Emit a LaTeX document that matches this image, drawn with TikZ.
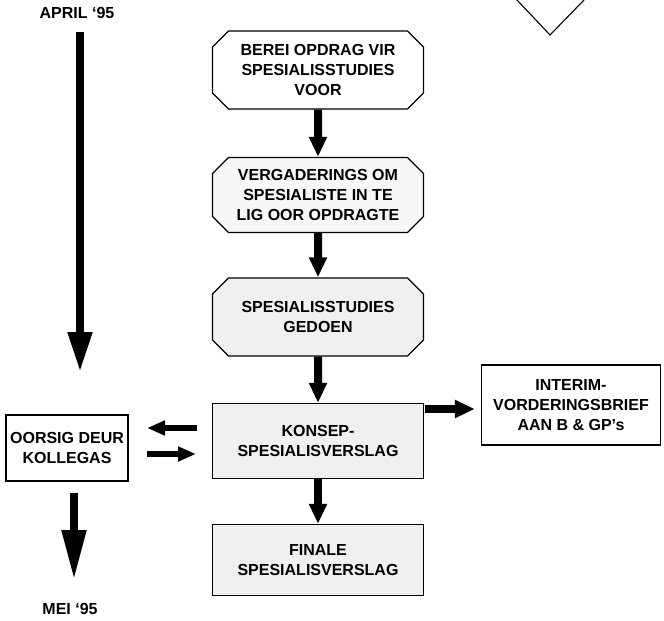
\documentclass[tikz,border=0pt]{standalone}
\usepackage{fontspec}
\setmainfont{Liberation Sans}
\usetikzlibrary{shapes.misc,arrows.meta}

\begin{document}
\begin{tikzpicture}[x=1pt, y=-1pt,
        every node/.style={font=\bfseries\fontsize{16}{20}\selectfont, align=center},
        stepbox/.style={draw, line width=1.3pt, minimum width=211pt, minimum height=78pt, inner sep=2pt},
        bevelbox/.style={stepbox, chamfered rectangle, chamfered rectangle xsep=8pt, chamfered rectangle ysep=8pt},
        flowarrow/.style={line width=8pt, -{Triangle[width=17pt,length=20pt]}},
        sidearrow/.style={line width=6pt, -{Triangle[width=14pt,length=18pt]}},
        timearrow/.style={line width=8pt, -{Triangle[width=23pt,length=40pt]}}]
            \useasboundingbox (0, 0) rectangle (664, 621);
            \node[bevelbox] (1) at (318, 70) {BEREI OPDRAG VIR\\SPESIALISSTUDIES\\VOOR};
            \node[bevelbox, fill=black!3, minimum height=75pt] (2) at (318, 195) {VERGADERINGS OM\\SPESIALISTE IN TE\\LIG OOR OPDRAGTE};
            \node[bevelbox, fill=black!6] (3) at (318, 317) {SPESIALISSTUDIES\\GEDOEN};
            \path[flowarrow] (1) edge (2) (2) edge (3);
            \node[stepbox, fill=black!6, minimum height=75pt] (4) at (318, 441) {KONSEP-\\SPESIALISVERSLAG};
            \node[stepbox, fill=black!6, minimum height=71pt] (5) at (318, 560) {FINALE\\SPESIALISVERSLAG};
            \path[flowarrow] (3) edge (4) (4) edge (5);
            \node[stepbox, minimum width=122pt, minimum height=66pt] (6) at (67, 448) {OORSIG DEUR\\KOLLEGAS};
            \node[stepbox, minimum width=179pt, minimum height=80pt] (7) at (571, 405) {INTERIM-\\VORDERINGSBRIEF\\AAN B \& GP’s};
            \coordinate (8) at (425, 409);
            \path[flowarrow, shorten >=6pt] (8) edge (8 -| 7.west);
            \coordinate (9) at (197, 428);
            \coordinate (10) at (147, 428);
            \coordinate (11) at (147, 454);
            \coordinate (12) at (196, 454);
            \path[sidearrow] (9) edge (10) (11) edge (12);
            \node(13) at (77, 13) {APRIL ‘95};
            \node(14) at (70, 609) {MEI ‘95};
            \coordinate (15) at (80, 32);
            \coordinate (16) at (80, 372);
            \coordinate (17) at (74, 493);
            \coordinate (18) at (74, 580);
            \path[timearrow] (15) edge (16);
            \path[timearrow, -{Triangle[width=23pt,length=50pt]}] (17) edge (18);
            \draw[line width=1.1pt] (517, 0) -- (550, 35) -- (584, 0);
        \end{tikzpicture}
\end{document}
